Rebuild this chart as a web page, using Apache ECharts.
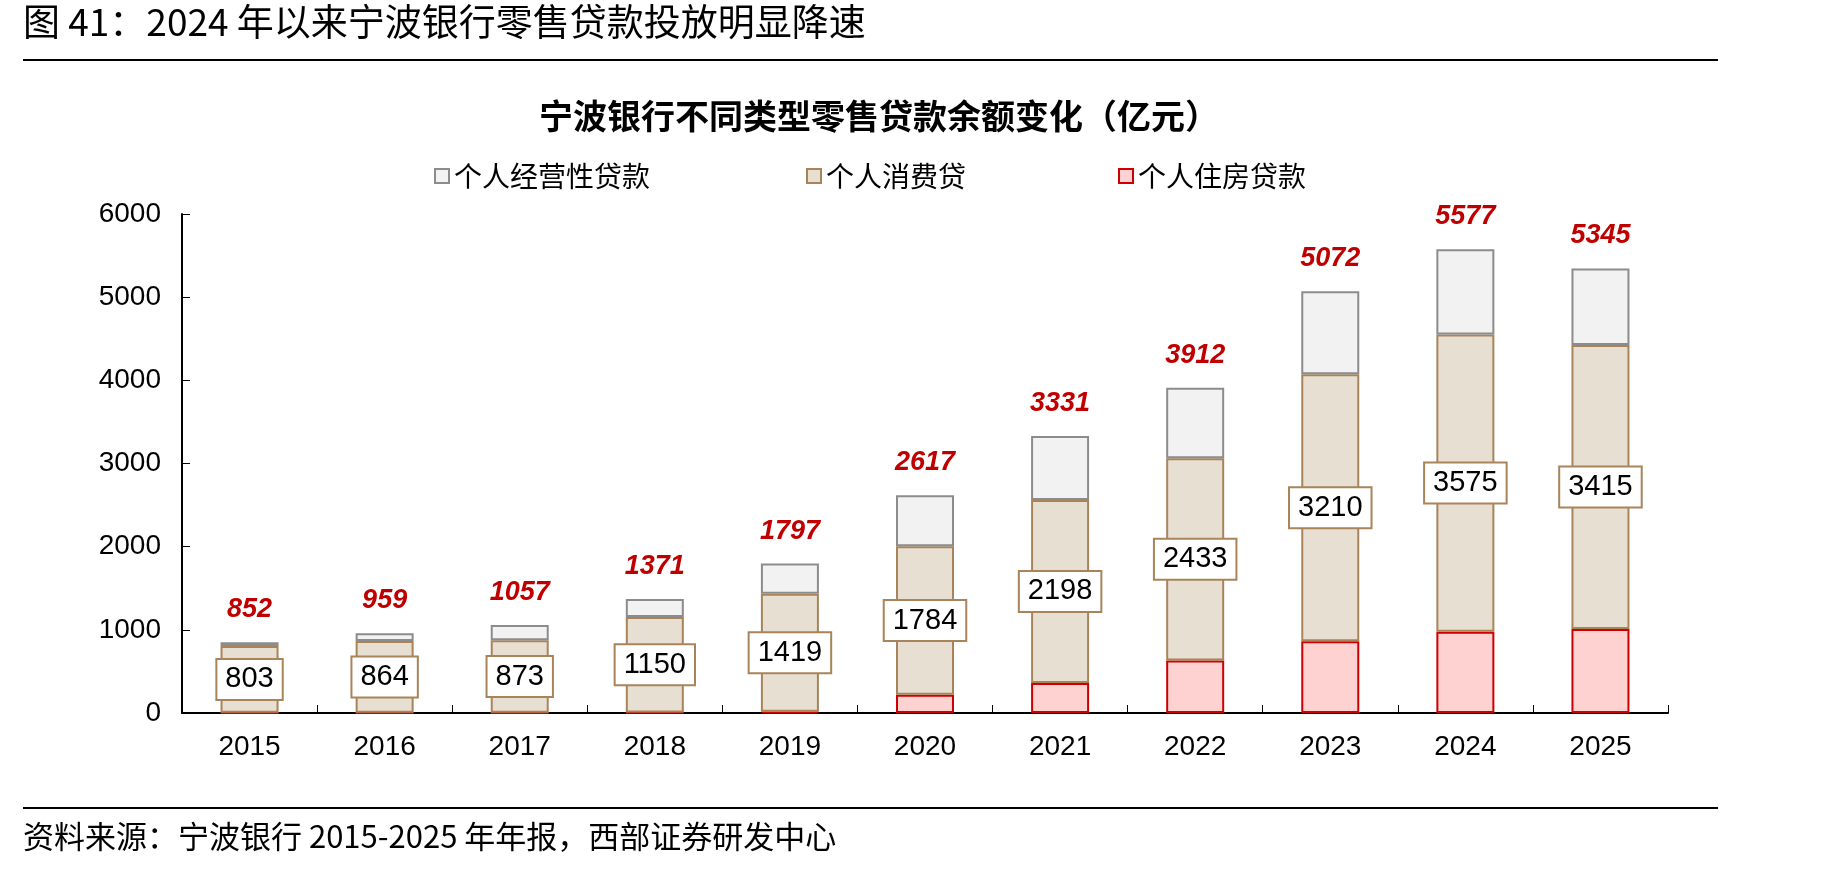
<!DOCTYPE html>
<html>
<head>
<meta charset="utf-8">
<title>宁波银行不同类型零售贷款余额变化</title>
<script src="https://cdn.jsdelivr.net/npm/echarts@6/dist/echarts.min.js"></script>
<style>
  html, body { margin: 0; padding: 0; background: #fff; }
  #chart { width: 1836px; height: 870px; }
</style>
</head>
<body>
<div id="chart"></div>
<script>
// 数据（亿元）
const years = ["2015", "2016", "2017", "2018", "2019", "2020", "2021", "2022", "2023", "2024", "2025"];
const housingLoan = [2, 2, 2, 5, 15, 220, 362, 631, 862, 977, 1009];
const consumerLoan = [803, 864, 873, 1150, 1419, 1784, 2198, 2433, 3210, 3575, 3415];
const businessLoan = [47, 93, 182, 216, 363, 613, 771, 848, 1000, 1025, 921];
const totals = [852, 959, 1057, 1371, 1797, 2617, 3331, 3912, 5072, 5577, 5345];
const yTicks = [0, 1000, 2000, 3000, 4000, 5000, 6000];

const latin = "Liberation Sans, Arial, sans-serif";
const cjk = "Noto Sans CJK SC, sans-serif";

const myChart = echarts.init(document.getElementById("chart"));

function legendItem(name, left) {
  return {
    data: [name],
    left: left,
    top: 157,
    icon: "rect",
    itemWidth: 14,
    itemHeight: 14,
    itemGap: 6,
    textStyle: { fontFamily: cjk, fontSize: 28, color: "#000" },
  };
}

myChart.setOption({
  animation: false,
  title: {
    text: "宁波银行不同类型零售贷款余额变化（亿元）",
    left: 874,
    top: 94,
    textAlign: "center",
    textStyle: { fontFamily: cjk, fontSize: 34, fontWeight: "bold", color: "#000" },
  },
  legend: [
    legendItem("个人经营性贷款", 429),
    legendItem("个人消费贷", 801),
    legendItem("个人住房贷款", 1113),
  ],
  graphic: [
    {
      type: "text",
      left: 23,
      top: 3,
      style: {
        text: "图 41：2024 年以来宁波银行零售贷款投放明显降速",
        fontFamily: cjk,
        fontSize: 37,
        fill: "#000",
      },
    },
    {
      type: "line",
      shape: { x1: 23, y1: 60, x2: 1718, y2: 60 },
      style: { stroke: "#000", lineWidth: 2 },
    },
    {
      type: "line",
      shape: { x1: 23, y1: 808, x2: 1718, y2: 808 },
      style: { stroke: "#000", lineWidth: 2 },
    },
    {
      type: "text",
      left: 23,
      top: 821,
      style: {
        text: "资料来源：宁波银行 2015-2025 年年报，西部证券研发中心",
        fontFamily: cjk,
        fontSize: 31,
        fill: "#000",
      },
    },
  ],
  grid: {
    left: 182,
    right: 168,
    top: 214,
    bottom: 157,
  },
  xAxis: {
    type: "category",
    data: years,
    boundaryGap: true,
    axisLine: { lineStyle: { color: "#000", width: 2 } },
    axisTick: { show: true, inside: true, length: 8, alignWithLabel: false, lineStyle: { color: "#000" } },
    axisLabel: { fontFamily: latin, fontSize: 28, color: "#000", margin: 20 },
  },
  yAxis: {
    type: "value",
    min: yTicks[0],
    max: yTicks[yTicks.length - 1],
    interval: 1000,
    axisLine: { show: true, lineStyle: { color: "#000", width: 2 } },
    axisTick: { show: true, inside: true, length: 8, lineStyle: { color: "#000" } },
    axisLabel: {
      fontFamily: latin,
      fontSize: 28,
      color: "#000",
      margin: 21,
      formatter: (v) => String(v),
    },
    splitLine: { show: false },
  },
  series: [
    {
      name: "个人住房贷款",
      type: "bar",
      stack: "retail",
      barWidth: 58,
      data: housingLoan,
      itemStyle: { color: "#FFD2D2", borderColor: "#CC0000", borderWidth: 2 },
    },
    {
      name: "个人消费贷",
      type: "bar",
      stack: "retail",
      barWidth: 58,
      data: consumerLoan,
      itemStyle: { color: "#E8DFD3", borderColor: "#A9845A", borderWidth: 2 },
      label: {
        show: true,
        position: "inside",
        fontFamily: latin,
        fontSize: 29,
        color: "#000",
        backgroundColor: "#fff",
        borderColor: "#A9845A",
        borderWidth: 2,
        padding: [5, 8],
      },
    },
    {
      name: "个人经营性贷款",
      type: "bar",
      stack: "retail",
      barWidth: 58,
      data: businessLoan,
      itemStyle: { color: "#F2F2F2", borderColor: "#8C8C8C", borderWidth: 2 },
      label: {
        show: true,
        position: "top",
        distance: 19,
        fontFamily: latin,
        fontSize: 27,
        fontWeight: "bold",
        fontStyle: "italic",
        color: "#C00000",
        formatter: (p) => totals[p.dataIndex],
      },
    },
  ],
});
</script>
</body>
</html>
